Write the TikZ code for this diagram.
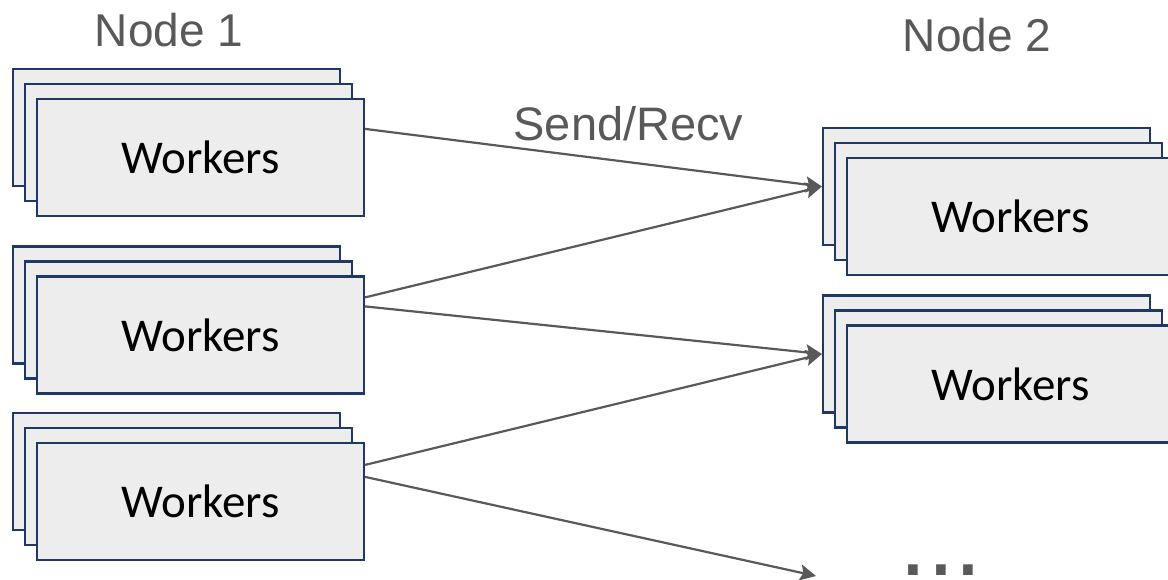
\documentclass[tikz,border=0pt]{standalone}
\usepackage{fontspec}
\setmainfont{Carlito}
\newfontfamily\labelfont{Liberation Sans}
\usetikzlibrary{arrows.meta}
\definecolor{boxfill}{HTML}{EDEDED}
\definecolor{boxline}{HTML}{203864}
\definecolor{linegray}{HTML}{595959}
\tikzset{
    worker/.style={shape=rectangle, draw=boxline, fill=boxfill, line width=2.2pt,
        minimum width=327pt, minimum height=117pt, inner sep=0pt,
        font=\fontsize{47}{56}\selectfont},
    caption/.style={text=linegray, anchor=base, inner sep=0pt,
        font=\labelfont\fontsize{46}{55}\selectfont},
    link/.style={draw=linegray, line width=2.2pt,
        -{Stealth[length=16pt,width=16pt,inset=3pt]}}}

\begin{document}
\begin{tikzpicture}[x=1pt, y=-1pt]
        \useasboundingbox (0,0) rectangle (1168,580);

                    % node 1
                    \node[worker] (A1) at (176.5,127.5) {};
                    \node[worker] (A2) at (188.5,142.5) {};
                    \node[worker] (A) at (200.5,157.5) {Workers};
                    \node[worker] (B1) at (176.5,305) {};
                    \node[worker] (B2) at (188.5,320) {};
                    \node[worker] (B) at (200.5,335) {Workers};
                    \node[worker] (C1) at (176.5,471.5) {};
                    \node[worker] (C2) at (188.5,486.5) {};
                    \node[worker] (C) at (200.5,501.5) {Workers};

                    % node 2
                    \node[worker] (D1) at (986.5,186.5) {};
                    \node[worker] (D2) at (998.5,201.5) {};
                    \node[worker] (D) at (1010.5,216.5) {Workers};
                    \node[worker] (E1) at (986.5,354) {};
                    \node[worker] (E2) at (998.5,369) {};
                    \node[worker] (E) at (1010.5,384) {Workers};

                    \node[caption] (n1) at (169,47) {Node 1};
                    \node[caption] (n2) at (977,52) {Node 2};
                    \node[caption, font=\labelfont\fontsize{47}{56}\selectfont] (sr) at (628.5,141) {Send/Recv};
                    \node[caption, font=\labelfont\fontsize{100}{100}\selectfont] (more) at (941,575) {...};
                    \coordinate (F) at (816,576);

                    \draw[link] ([yshift=-31pt]A.north east) -- (D1.west);
                    \draw[link] ([yshift=-22pt]B.north east) -- (D1.west);
                    \draw[link] ([yshift=-31pt]B.north east) -- (E1.west);
                    \draw[link] ([yshift=-23pt]C.north east) -- (E1.west);
                    \draw[link] ([yshift=-35pt]C.north east) -- (F);

                \end{tikzpicture}
\end{document}
